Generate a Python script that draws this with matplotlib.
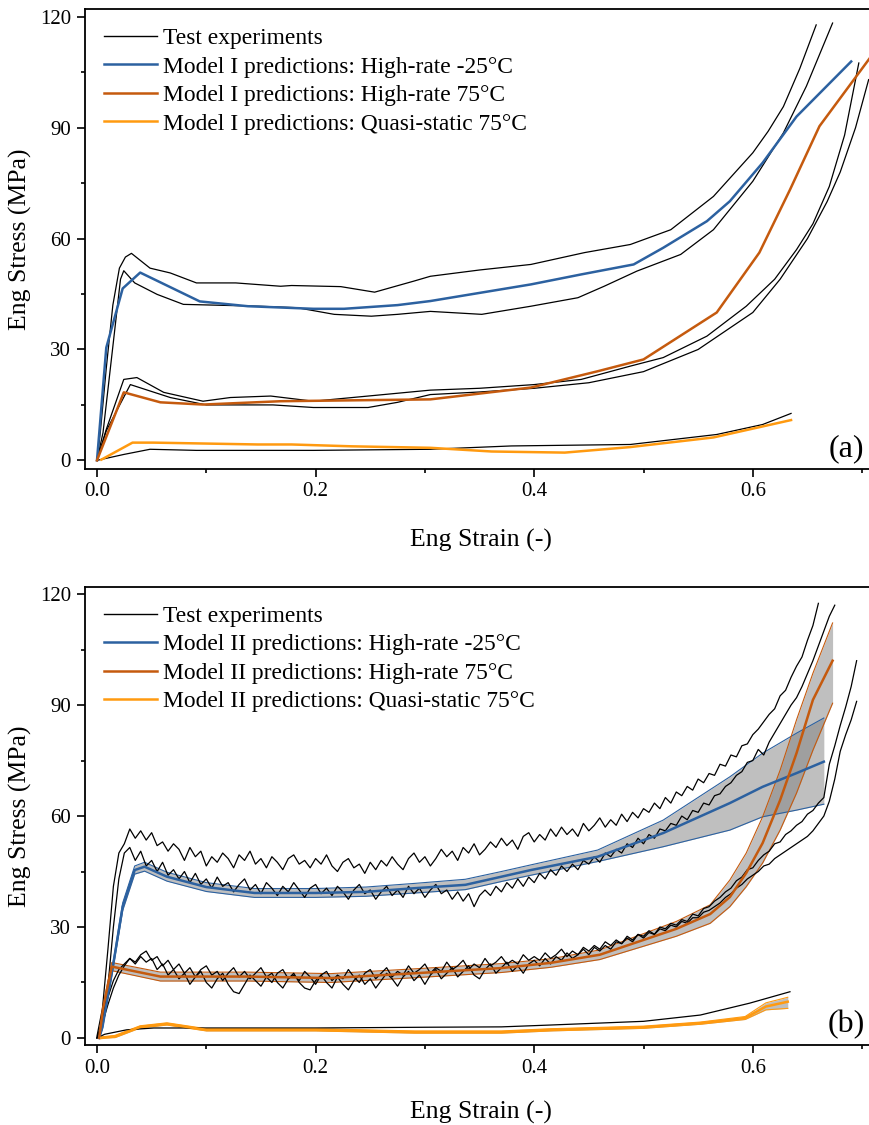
import numpy as np
import matplotlib
matplotlib.use("Agg")
import matplotlib.pyplot as plt
from matplotlib.ticker import MultipleLocator, FormatStrFormatter

plt.rcParams["font.family"] = ["Liberation Serif", "DejaVu Serif"]

BLUE = "#2c61a0"
DARK_ORANGE = "#c55a0e"
LIGHT_ORANGE = "#ff9a10"

# ---------------- panel (a): Model I ----------------
a_exp_cold1_x = [0, 0.003, 0.0085, 0.0145, 0.0205, 0.026, 0.0315, 0.0485, 0.067, 0.091, 0.127, 0.168, 0.178,
                 0.223, 0.254, 0.29, 0.305, 0.35, 0.397, 0.446, 0.488, 0.525, 0.564, 0.6, 0.614, 0.628,
                 0.643, 0.658]
a_exp_cold1_y = [0, 7.5, 25, 42, 52, 55, 56, 52, 50.7, 48, 48, 47.1, 47.3,
                 47, 45.5, 48.5, 49.8, 51.5, 53, 56.2, 58.4, 62.4, 71.4, 83.2, 89, 95.7,
                 106, 117.8]
a_exp_cold2_x = [0, 0.0055, 0.0145, 0.0215, 0.0245, 0.0345, 0.055, 0.079, 0.148, 0.183, 0.217, 0.251, 0.275,
                 0.305, 0.352, 0.397, 0.44, 0.464, 0.494, 0.534, 0.564, 0.6, 0.628, 0.649, 0.673]
a_exp_cold2_y = [0, 7.5, 30.8, 49, 51.3, 48, 44.9, 42.2, 41.7, 41.3, 39.5, 39, 39.5,
                 40.3, 39.5, 41.7, 44, 47.1, 51.2, 55.7, 62.4, 75.5, 88.6, 101.2, 118.3]
a_exp_hot1_x = [0, 0.0085, 0.0245, 0.0365, 0.061, 0.097, 0.122, 0.159, 0.198, 0.248, 0.305, 0.35, 0.4,
                0.443, 0.488, 0.518, 0.558, 0.594, 0.62, 0.64, 0.655, 0.67, 0.684, 0.697]
a_exp_hot1_y = [0, 8.4, 21.9, 22.4, 18.4, 16, 17, 17.4, 16, 17.4, 19, 19.5, 20.5,
                21.9, 25.5, 27.8, 33.6, 41.7, 49, 57, 64, 74.1, 88, 107.5]
a_exp_hot2_x = [0, 0.0085, 0.0305, 0.067, 0.1, 0.161, 0.198, 0.248, 0.275, 0.305, 0.35, 0.4, 0.45,
                0.5, 0.55, 0.6, 0.625, 0.65, 0.668, 0.68, 0.694, 0.706]
a_exp_hot2_y = [0, 8, 20.5, 17, 15, 15, 14.3, 14.3, 15.7, 17.8, 18.5, 19.5, 21,
                24, 30, 40, 49, 60, 70, 78, 90, 103]
a_exp_qs_x = [0, 0.0245, 0.0485, 0.091, 0.198, 0.305, 0.379, 0.488, 0.567, 0.609, 0.635]
a_exp_qs_y = [0, 1.6, 3, 2.7, 2.7, 3, 3.9, 4.3, 7, 9.7, 12.7]

a_mod_cold_x = [0, 0.0085, 0.0235, 0.0395, 0.094, 0.138, 0.198, 0.226, 0.275, 0.305, 0.397, 0.443,
                0.491, 0.518, 0.558, 0.579, 0.609, 0.64, 0.69]
a_mod_cold_y = [0, 30.5, 46.5, 50.8, 43, 41.7, 41, 41, 42, 43.1, 47.6, 50.3,
                53, 57.5, 64.7, 70.1, 80.5, 93, 107.9]
a_mod_hot_x = [0, 0.0245, 0.058, 0.097, 0.168, 0.305, 0.397, 0.458, 0.5, 0.567, 0.606, 0.634, 0.661, 0.72]
a_mod_hot_y = [0, 18.4, 15.7, 15.1, 16, 16.5, 19.7, 24.1, 27.3, 40, 56.2, 73.2, 90.4, 114]
a_mod_qs_x = [0.004, 0.0325, 0.0515, 0.147, 0.178, 0.233, 0.287, 0.305, 0.361, 0.428, 0.488, 0.564, 0.635]
a_mod_qs_y = [0.2, 4.8, 4.8, 4.3, 4.3, 3.8, 3.5, 3.4, 2.4, 2.1, 3.6, 6.2, 10.9]

# ---------------- panel (b): Model II ----------------
# raw test records, one reading every 0.005 strain
b_exp_step = 0.005
b_exp_cold1_y = [0.5, 8, 24, 41, 50, 52.5, 56.5, 54, 56, 53.5, 55.5, 52, 53, 50.5, 52.5, 51, 48, 51.5,
                 49, 50.5, 46.5, 49, 47.5, 50, 48.5, 46, 49.5, 48, 50.5, 47, 48.5, 46, 49, 47.5, 45.5,
                 48.5, 49.5, 47, 48, 46, 48.5, 47, 49.5, 46.5, 45, 47.5, 48.5, 46, 47, 44.5, 47.5, 45.5,
                 48, 46.5, 49, 47, 45.5, 48.5, 50, 47.5, 49, 46.5, 48.5, 51, 49, 50.5, 48, 51.5, 50,
                 52.5, 49.5, 51, 53, 51.5, 54, 52, 53.5, 51, 54.5, 55.5, 53, 55, 53.5, 56.5, 54.5, 57,
                 55, 56.5, 54.5, 58, 56, 57.5, 59.5, 57, 59, 57.5, 60.5, 58.5, 61, 59.5, 62, 61, 63.5,
                 62, 65, 63.5, 66.5, 65.5, 68, 67, 70, 69, 71.5, 71, 74, 73.5, 76.5, 76, 79, 79.5, 82,
                 83.5, 85.5, 87.5, 89, 92.5, 94, 97.5, 100.5, 103, 107.5, 111.5, 117.5]
b_exp_cold2_y = [0, 4, 14, 30, 43, 50, 51.5, 48, 50.5, 46.5, 48, 45, 47.5, 44, 45.5, 43, 45, 42, 44.5,
                 41.5, 43, 40.5, 43.5, 41, 42, 39.5, 41.5, 43, 40, 41.5, 39, 42, 40.5, 38.5, 41, 39.5,
                 42, 40, 38, 40.5, 41.5, 39, 40.5, 38.5, 41, 39.5, 37.5, 40, 41.5, 39, 40, 37.5, 39.5,
                 41, 38.5, 40, 38, 41, 39, 40.5, 38, 40, 41.5, 39, 40, 37.5, 39.5, 37, 39, 35.5, 38.5,
                 40, 38.5, 41, 39.5, 42, 40.5, 43, 41, 43.5, 42, 44.5, 43, 45.5, 44, 46.5, 45, 47, 45.5,
                 48, 47, 49, 47.5, 50, 49, 51, 50, 52.5, 51.5, 54, 52.5, 55, 54, 56.5, 56, 58, 57.5, 60,
                 59, 61.5, 61, 63.5, 63, 65.5, 66, 68, 69, 71, 72, 74.5, 75, 78, 76.5, 80, 82.5, 85,
                 87.5, 90, 92, 95, 98.5, 102, 106, 110, 114, 117]
b_exp_hot1_y = [0, 5, 11, 15.5, 18.5, 20, 21.5, 20.5, 22.5, 23.5, 21, 22, 19.5, 21, 18.5, 20, 17.5,
                19, 16.5, 18.5, 19.5, 17, 18, 15.5, 17.5, 19, 16.5, 18, 16, 17.5, 19, 16.5, 15, 17.5,
                18.5, 16, 17, 15.5, 18, 16.5, 14.5, 17, 18, 15.5, 17, 16, 18.5, 16.5, 15, 17.5, 18.5,
                16, 17.5, 19, 16.5, 18, 17, 19.5, 17.5, 18.5, 20, 17.5, 19, 18, 20.5, 18.5, 19.5, 21,
                18.5, 20, 19, 21.5, 19.5, 20.5, 22, 20, 21, 20, 22.5, 21, 22, 21, 23, 21.5, 22.5, 24,
                22, 23.5, 22.5, 24.5, 23.5, 25, 24, 26, 25, 26.5, 25.5, 27.5, 26.5, 28, 27.5, 29, 28,
                30, 29.5, 31, 30.5, 32, 31.5, 33.5, 33, 35, 35.5, 37, 38, 39.5, 40.5, 42.5, 43.5, 45.5,
                46, 48, 49.5, 50.5, 52.5, 53, 55, 56, 57.5, 58.5, 60.5, 61.5, 63.5, 65, 74, 79, 84.5,
                89.5, 95, 102]
b_exp_hot2_y = [0, 4, 9, 13.5, 17, 19.5, 21.5, 20, 22, 20.5, 21.5, 18.5, 20, 17, 18.5, 16, 17.5, 14.5,
                16.5, 18, 15, 13.5, 16, 17.5, 14.5, 12.5, 12, 14.5, 17, 15.5, 14, 16.5, 17.5, 15, 13.5,
                16, 17.5, 15, 13.5, 13, 15.5, 17, 15, 13.5, 16.5, 14.5, 13, 15.5, 17, 14.5, 16, 13.5,
                15.5, 17.5, 16, 14, 16.5, 18, 15.5, 17, 14.5, 17, 18.5, 16, 17.5, 19, 16.5, 18, 19.5,
                17, 16, 18.5, 20, 17.5, 19, 20.5, 18, 19.5, 17.5, 20, 21, 19.5, 21.5, 20, 22, 21, 23,
                21.5, 22.5, 24, 22.5, 24.5, 23.5, 25, 24, 26, 25.5, 27, 26, 28, 27, 28.5, 28, 29.5, 29,
                30.5, 30, 31.5, 31, 32.5, 32.5, 34, 34.5, 35.5, 36.5, 38, 39, 40.5, 41.5, 43, 44, 45,
                46.5, 47, 48.5, 49.5, 50.5, 51.5, 52.5, 53.5, 54.5, 56, 58, 60, 64, 70, 77.5, 82, 86,
                91]
b_exp_qs_x = [0, 0.007, 0.027, 0.052, 0.1, 0.2, 0.3, 0.37, 0.415, 0.5, 0.552, 0.597, 0.634]
b_exp_qs_y = [0, 1, 2.2, 2.7, 2.7, 2.7, 2.9, 3.0, 3.5, 4.5, 6.2, 9.4, 12.5]

b_cold_x = [0.002, 0.005, 0.0145, 0.0235, 0.0345, 0.0435, 0.064, 0.1, 0.144, 0.2, 0.246, 0.291, 0.337,
            0.37, 0.397, 0.458, 0.518, 0.579, 0.609, 0.64, 0.665]
b_cold_mean = [0, 3, 19.3, 35.5, 45.4, 46.3, 43.6, 40.8, 39.2, 39.2, 39.5, 40.5, 41.4,
               43.6, 45.4, 49, 55.4, 63.5, 67.9, 71.6, 74.7]
b_cold_hi = [0, 3.5, 20, 36.5, 46.5, 47.5, 44.8, 42, 40.4, 40.4, 40.8, 41.8, 42.9,
             45, 46.8, 50.8, 58.9, 70.6, 77, 82.4, 86.5]
b_cold_lo = [0, 2.5, 18.5, 34.5, 44.3, 45.1, 42.4, 39.6, 38, 38, 38.3, 39.2, 40.1,
             42.3, 44, 47.7, 51.7, 56.2, 59.8, 61.6, 63.2]

b_hot_x = [0.002, 0.0055, 0.0135, 0.058, 0.138, 0.214, 0.291, 0.37, 0.415, 0.46, 0.5, 0.53, 0.561,
           0.579, 0.594, 0.609, 0.625, 0.64, 0.655, 0.673]
b_hot_mean = [0, 8, 19.3, 16.6, 16.6, 16.2, 17.5, 18.9, 20.3, 22.5, 26.5, 29.5, 33.5,
              38.1, 44.6, 52.7, 64.3, 77, 91.4, 102]
b_hot_hi = [0, 8.7, 20.4, 17.8, 17.8, 17.4, 18.7, 20.1, 21.4, 23.8, 28.2, 31.5, 36,
            42.7, 50, 59.8, 72.4, 86, 98.6, 112.2]
b_hot_lo = [0, 7.3, 18.2, 15.4, 15.4, 15, 16.3, 17.7, 19.1, 21.2, 24.8, 27.5, 31,
            35.5, 40.9, 47.3, 56.2, 66.2, 77.8, 90.5]

b_qs_x = [0.004, 0.0165, 0.0395, 0.064, 0.1, 0.2, 0.291, 0.37, 0.415, 0.5, 0.552, 0.593, 0.612, 0.632]
b_qs_mean = [0, 0.4, 3, 3.8, 2.2, 2.2, 1.6, 1.6, 2.2, 2.9, 4, 5.4, 8.5, 9.8]
b_qs_hi = [0.3, 0.7, 3.3, 4.1, 2.5, 2.5, 1.9, 1.9, 2.5, 3.2, 4.3, 5.8, 9.5, 11]
b_qs_lo = [0, 0.1, 2.7, 3.5, 1.9, 1.9, 1.3, 1.3, 1.9, 2.6, 3.7, 5.0, 7.6, 8]

W, H = 870, 1125
X0_PX, X_SCALE = 97, 1093          # strain 0 position and px per unit strain
AX_L, AX_R = 85, 876


def add_panel(top_px, bottom_px):
    return fig.add_axes([AX_L / W, 1 - bottom_px / H, (AX_R - AX_L) / W, (bottom_px - top_px) / H])


fig = plt.figure(figsize=(W / 100, H / 100), dpi=100)
ax_a = add_panel(9, 468.5)
ax_b = add_panel(586.7, 1045)


def style_axes(ax, ylim, tag, label_drop):
    ax.set_xlim((AX_L - X0_PX) / X_SCALE, (AX_R - X0_PX) / X_SCALE)
    ax.set_ylim(*ylim)
    ax.xaxis.set_major_locator(MultipleLocator(0.2))
    ax.xaxis.set_minor_locator(MultipleLocator(0.1))
    ax.yaxis.set_major_locator(MultipleLocator(30))
    ax.yaxis.set_minor_locator(MultipleLocator(15))
    ax.xaxis.set_major_formatter(FormatStrFormatter("%.1f"))
    ax.tick_params(which="major", direction="out", length=6, width=1.2, labelsize=15, pad=4)
    ax.tick_params(which="minor", direction="out", length=3.2, width=1.2)
    for sp in ax.spines.values():
        sp.set_linewidth(1.3)
    ax_h = ax.get_position().height * H
    ax.set_xlabel("Eng Strain (-)", fontsize=18.5, va="center")
    ax.set_ylabel("Eng Stress (MPa)", fontsize=18.5, va="center")
    ax.xaxis.set_label_coords(0.5, -label_drop / ax_h)
    ax.yaxis.set_label_coords(-(AX_L - 20) / (AX_R - AX_L), 0.5)
    ax.text((846.7 - AX_L) / (AX_R - AX_L), 20 / ax_h, tag, transform=ax.transAxes,
            fontsize=23, ha="center", va="center")


def legend(ax, model):
    labels = ["Test experiments",
              f"{model} predictions: High-rate -25°C",
              f"{model} predictions: High-rate 75°C",
              f"{model} predictions: Quasi-static 75°C"]
    handles = [plt.Line2D([], [], color="black", lw=1.0),
               plt.Line2D([], [], color=BLUE, lw=1.8),
               plt.Line2D([], [], color=DARK_ORANGE, lw=1.8),
               plt.Line2D([], [], color=LIGHT_ORANGE, lw=1.8)]
    ax.legend(handles, labels, loc="upper left", bbox_to_anchor=(0.0, 1.0), frameon=False,
              fontsize=16.9, handlelength=2.25, handletextpad=0.28, labelspacing=0.3,
              borderaxespad=0.5, borderpad=0.3)


# panel (a)
for xs, ys in [(a_exp_cold1_x, a_exp_cold1_y), (a_exp_cold2_x, a_exp_cold2_y),
               (a_exp_hot1_x, a_exp_hot1_y), (a_exp_hot2_x, a_exp_hot2_y),
               (a_exp_qs_x, a_exp_qs_y)]:
    ax_a.plot(xs, ys, color="black", lw=0.9)
ax_a.plot(a_mod_cold_x, a_mod_cold_y, color=BLUE, lw=1.8)
ax_a.plot(a_mod_hot_x, a_mod_hot_y, color=DARK_ORANGE, lw=1.8)
ax_a.plot(a_mod_qs_x, a_mod_qs_y, color=LIGHT_ORANGE, lw=1.8)
style_axes(ax_a, (-2.2, 122.1), "(a)", 72)
legend(ax_a, "Model I")

# panel (b)
for xs, mean, hi, lo, col in [(b_cold_x, b_cold_mean, b_cold_hi, b_cold_lo, BLUE),
                              (b_hot_x, b_hot_mean, b_hot_hi, b_hot_lo, DARK_ORANGE),
                              (b_qs_x, b_qs_mean, b_qs_hi, b_qs_lo, LIGHT_ORANGE)]:
    ax_b.fill_between(xs, lo, hi, color="0.5", alpha=0.5, lw=0)
    ax_b.plot(xs, hi, color=col, lw=0.8)
    ax_b.plot(xs, lo, color=col, lw=0.8)

for ys in [b_exp_cold1_y, b_exp_cold2_y, b_exp_hot1_y, b_exp_hot2_y]:
    ax_b.plot(np.arange(len(ys)) * b_exp_step, ys, color="black", lw=0.9)
ax_b.plot(b_exp_qs_x, b_exp_qs_y, color="black", lw=0.9)

ax_b.plot(b_cold_x, b_cold_mean, color=BLUE, lw=1.8)
ax_b.plot(b_hot_x, b_hot_mean, color=DARK_ORANGE, lw=1.8)
ax_b.plot(b_qs_x, b_qs_mean, color=LIGHT_ORANGE, lw=1.8)
style_axes(ax_b, (-1.9, 122.0), "(b)", 67)
legend(ax_b, "Model II")

fig.savefig("out.png", dpi=100)
